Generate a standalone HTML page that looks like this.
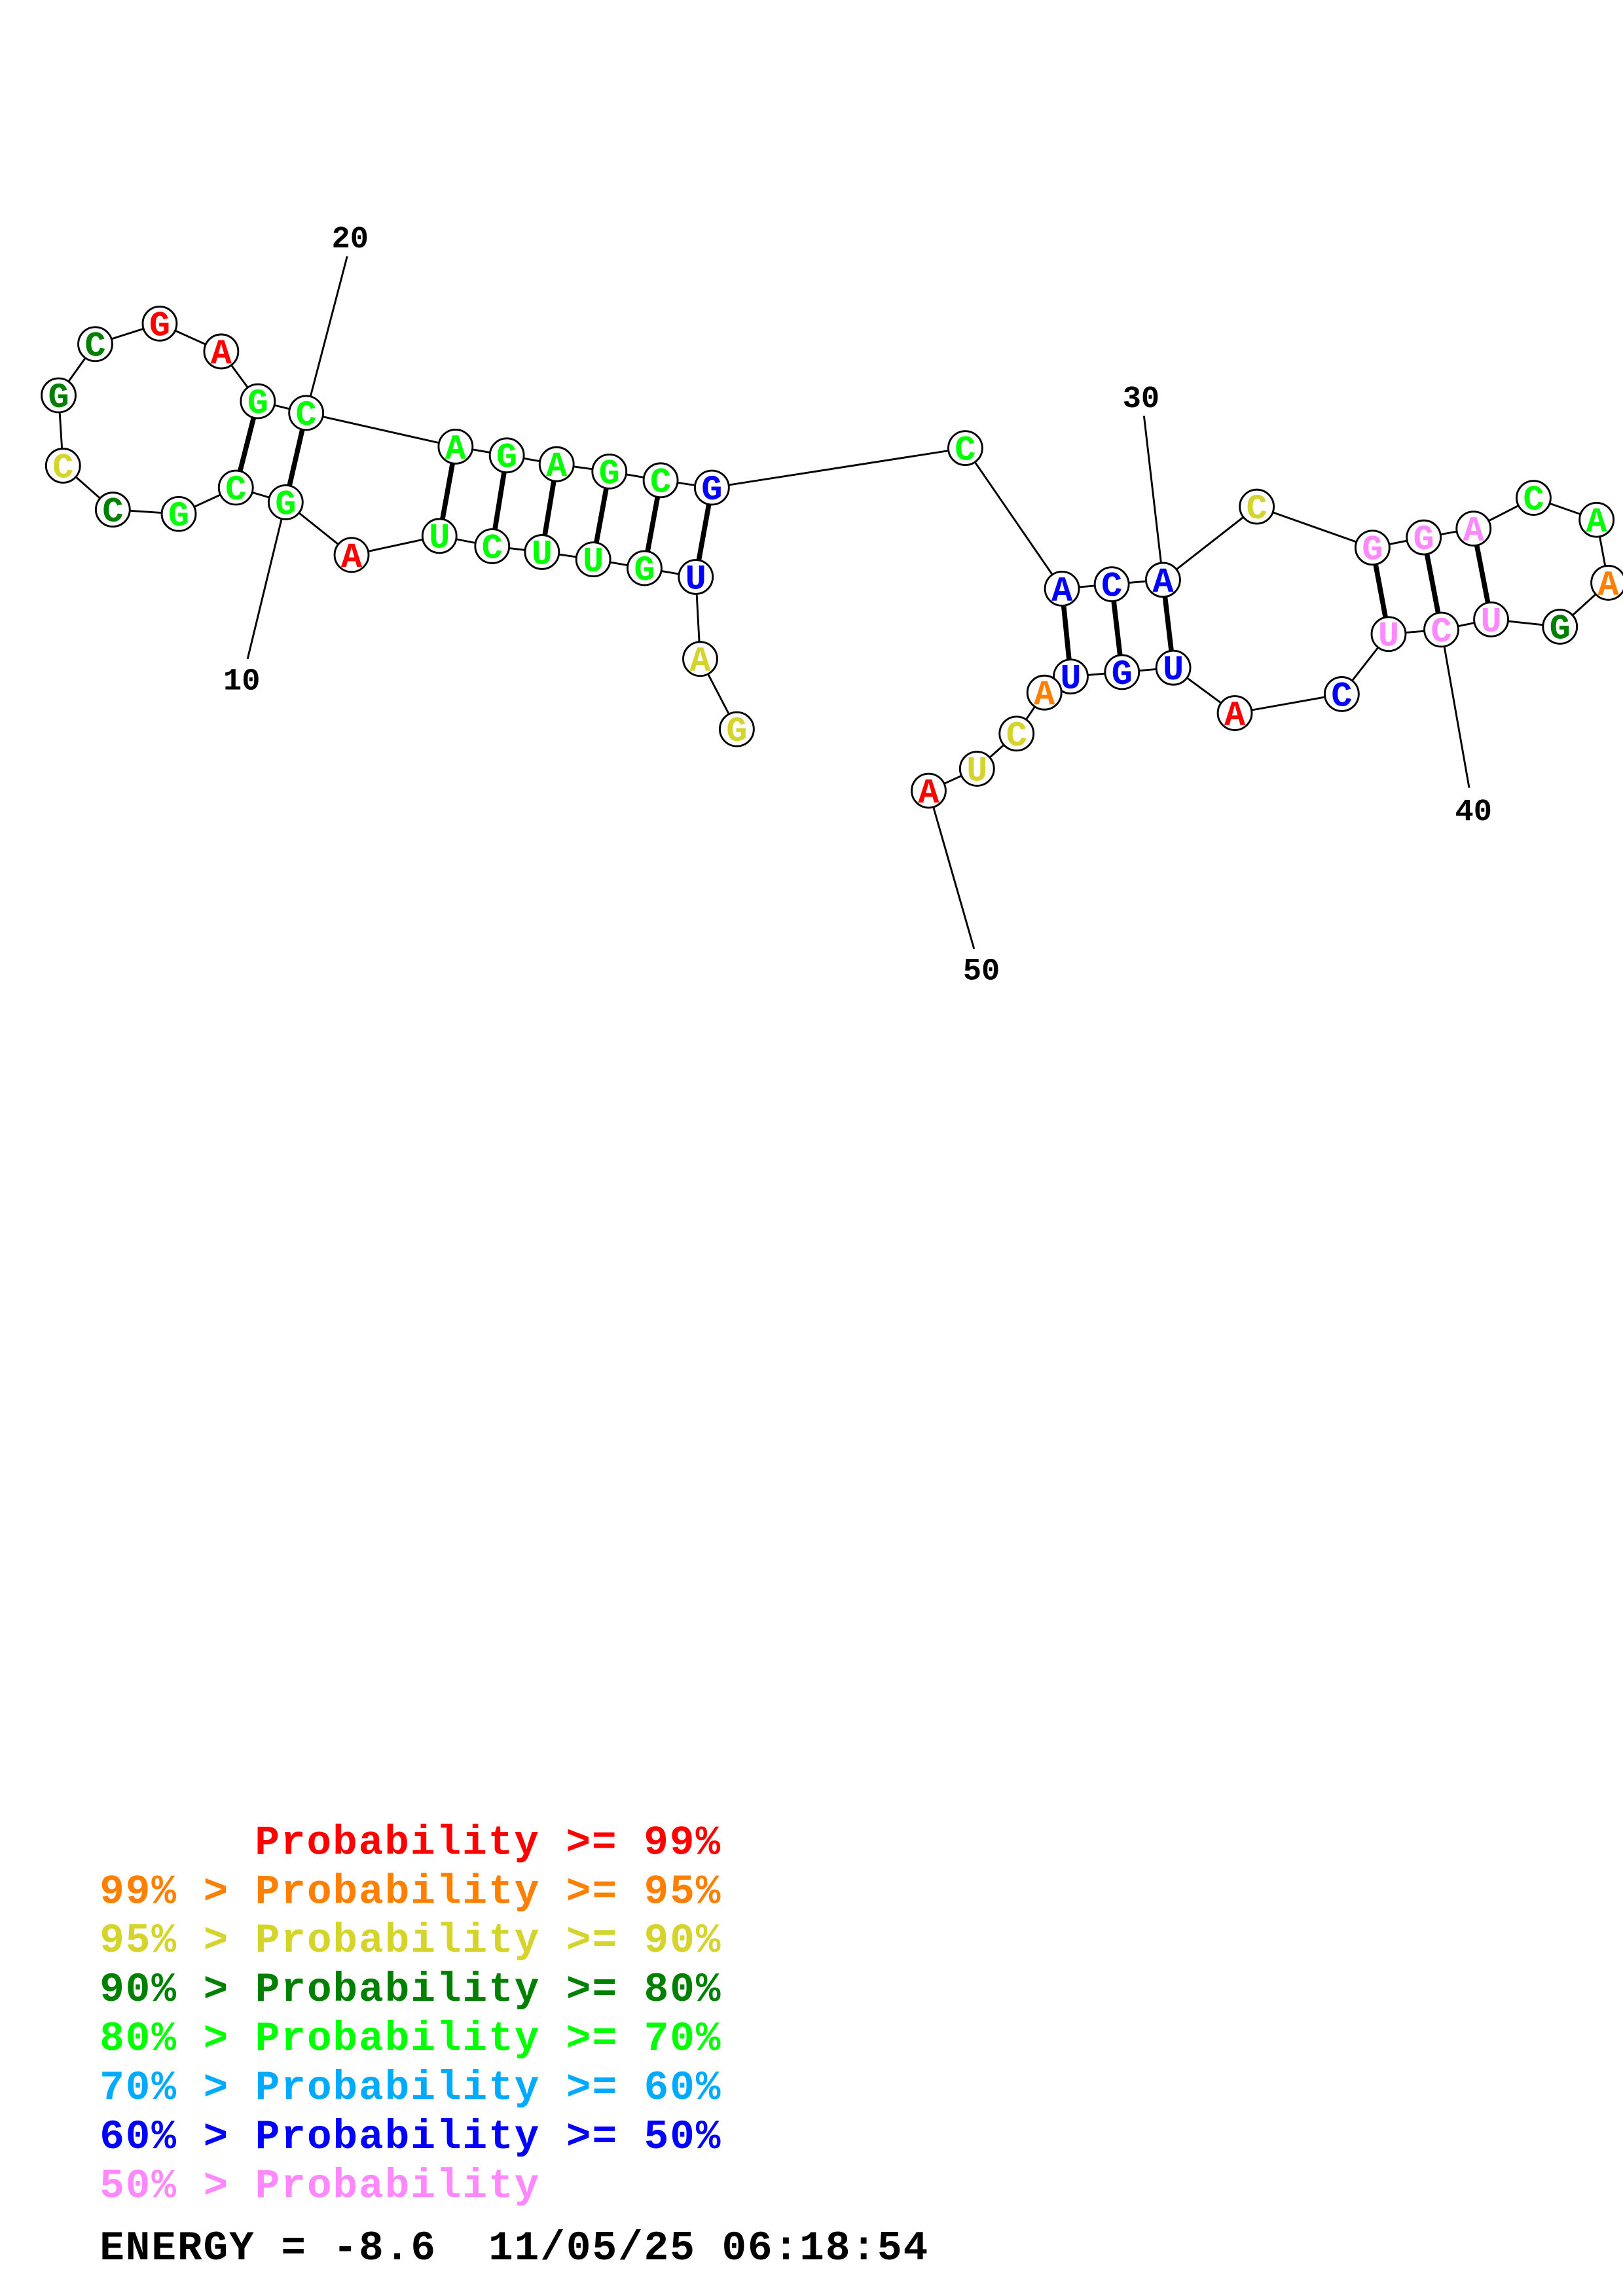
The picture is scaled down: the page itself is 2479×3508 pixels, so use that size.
<!DOCTYPE html>
<html><head><meta charset="utf-8"><style>
html,body{margin:0;padding:0;background:#fff;}
svg{display:block;}
.n{font-family:"Liberation Mono",monospace;font-weight:bold;font-size:24px;text-anchor:middle;}
.l{font-family:"Liberation Mono",monospace;font-weight:bold;font-size:28px;letter-spacing:0.9px;}
.num{font-family:"Liberation Mono",monospace;font-weight:bold;font-size:21px;text-anchor:middle;fill:#000;}
</style></head><body>
<svg width="2479" height="3508" viewBox="0 0 1108 1568" xmlns="http://www.w3.org/2000/svg">
<g stroke="#000" stroke-width="1.3" fill="none">
<polyline points="503,498 478,450 475,394 440,388 405,382 370,377 336,373 300,366 240,379 195,343 161,333 122,351 77,348 43,318 40,270 65,235 109,221 151,240 176,274 209,282 311,305 346,311 380,317 416,322 451,328 486,333 659,306 725,402 759,399 794,396 858,346 937,374 972,367 1006,361 1047,340 1090,355 1098,398 1065,428 1018,423 984,430 948,433 916,474 843,487 801,456 766,459 731,462 713,473 694,501 667,525 634,540"/>
<line x1="209" y1="282" x2="237" y2="175"/>
<line x1="195" y1="343" x2="169" y2="450"/>
<line x1="794" y1="396" x2="781" y2="284"/>
<line x1="984" y1="430" x2="1003" y2="538"/>
<line x1="634" y1="540" x2="665" y2="648"/>
</g>
<g stroke="#000" stroke-width="3.4">
<line x1="475" y1="394" x2="486" y2="333"/>
<line x1="440" y1="388" x2="451" y2="328"/>
<line x1="405" y1="382" x2="416" y2="322"/>
<line x1="370" y1="377" x2="380" y2="317"/>
<line x1="336" y1="373" x2="346" y2="311"/>
<line x1="300" y1="366" x2="311" y2="305"/>
<line x1="195" y1="343" x2="209" y2="282"/>
<line x1="161" y1="333" x2="176" y2="274"/>
<line x1="725" y1="402" x2="731" y2="462"/>
<line x1="759" y1="399" x2="766" y2="459"/>
<line x1="794" y1="396" x2="801" y2="456"/>
<line x1="937" y1="374" x2="948" y2="433"/>
<line x1="972" y1="367" x2="984" y2="430"/>
<line x1="1006" y1="361" x2="1018" y2="423"/>
</g>
<g stroke="#000" stroke-width="1.3" fill="#fff">
<circle cx="503" cy="498" r="11.6"/><circle cx="478" cy="450" r="11.6"/><circle cx="475" cy="394" r="11.6"/><circle cx="440" cy="388" r="11.6"/><circle cx="405" cy="382" r="11.6"/><circle cx="370" cy="377" r="11.6"/><circle cx="336" cy="373" r="11.6"/><circle cx="300" cy="366" r="11.6"/><circle cx="240" cy="379" r="11.6"/><circle cx="195" cy="343" r="11.6"/><circle cx="161" cy="333" r="11.6"/><circle cx="122" cy="351" r="11.6"/><circle cx="77" cy="348" r="11.6"/><circle cx="43" cy="318" r="11.6"/><circle cx="40" cy="270" r="11.6"/><circle cx="65" cy="235" r="11.6"/><circle cx="109" cy="221" r="11.6"/><circle cx="151" cy="240" r="11.6"/><circle cx="176" cy="274" r="11.6"/><circle cx="209" cy="282" r="11.6"/><circle cx="311" cy="305" r="11.6"/><circle cx="346" cy="311" r="11.6"/><circle cx="380" cy="317" r="11.6"/><circle cx="416" cy="322" r="11.6"/><circle cx="451" cy="328" r="11.6"/><circle cx="486" cy="333" r="11.6"/><circle cx="659" cy="306" r="11.6"/><circle cx="725" cy="402" r="11.6"/><circle cx="759" cy="399" r="11.6"/><circle cx="794" cy="396" r="11.6"/><circle cx="858" cy="346" r="11.6"/><circle cx="937" cy="374" r="11.6"/><circle cx="972" cy="367" r="11.6"/><circle cx="1006" cy="361" r="11.6"/><circle cx="1047" cy="340" r="11.6"/><circle cx="1090" cy="355" r="11.6"/><circle cx="1098" cy="398" r="11.6"/><circle cx="1065" cy="428" r="11.6"/><circle cx="1018" cy="423" r="11.6"/><circle cx="984" cy="430" r="11.6"/><circle cx="948" cy="433" r="11.6"/><circle cx="916" cy="474" r="11.6"/><circle cx="843" cy="487" r="11.6"/><circle cx="801" cy="456" r="11.6"/><circle cx="766" cy="459" r="11.6"/><circle cx="731" cy="462" r="11.6"/><circle cx="713" cy="473" r="11.6"/><circle cx="694" cy="501" r="11.6"/><circle cx="667" cy="525" r="11.6"/><circle cx="634" cy="540" r="11.6"/>
</g>
<g class="n">
<text x="503" y="506" fill="#d4d42a">G</text>
<text x="478" y="458" fill="#d4d42a">A</text>
<text x="475" y="402" fill="#0000ff">U</text>
<text x="440" y="396" fill="#00ff00">G</text>
<text x="405" y="390" fill="#00ff00">U</text>
<text x="370" y="385" fill="#00ff00">U</text>
<text x="336" y="381" fill="#00ff00">C</text>
<text x="300" y="374" fill="#00ff00">U</text>
<text x="240" y="387" fill="#ff0000">A</text>
<text x="195" y="351" fill="#00ff00">G</text>
<text x="161" y="341" fill="#00ff00">C</text>
<text x="122" y="359" fill="#00ff00">G</text>
<text x="77" y="356" fill="#008000">C</text>
<text x="43" y="326" fill="#d4d42a">C</text>
<text x="40" y="278" fill="#008000">G</text>
<text x="65" y="243" fill="#008000">C</text>
<text x="109" y="229" fill="#ff0000">G</text>
<text x="151" y="248" fill="#ff0000">A</text>
<text x="176" y="282" fill="#00ff00">G</text>
<text x="209" y="290" fill="#00ff00">C</text>
<text x="311" y="313" fill="#00ff00">A</text>
<text x="346" y="319" fill="#00ff00">G</text>
<text x="380" y="325" fill="#00ff00">A</text>
<text x="416" y="330" fill="#00ff00">G</text>
<text x="451" y="336" fill="#00ff00">C</text>
<text x="486" y="341" fill="#0000ff">G</text>
<text x="659" y="314" fill="#00ff00">C</text>
<text x="725" y="410" fill="#0000ff">A</text>
<text x="759" y="407" fill="#0000ff">C</text>
<text x="794" y="404" fill="#0000ff">A</text>
<text x="858" y="354" fill="#d4d42a">C</text>
<text x="937" y="382" fill="#ff88ff">G</text>
<text x="972" y="375" fill="#ff88ff">G</text>
<text x="1006" y="369" fill="#ff88ff">A</text>
<text x="1047" y="348" fill="#00ff00">C</text>
<text x="1090" y="363" fill="#00ff00">A</text>
<text x="1098" y="406" fill="#ff8000">A</text>
<text x="1065" y="436" fill="#008000">G</text>
<text x="1018" y="431" fill="#ff88ff">U</text>
<text x="984" y="438" fill="#ff88ff">C</text>
<text x="948" y="441" fill="#ff88ff">U</text>
<text x="916" y="482" fill="#0000ff">C</text>
<text x="843" y="495" fill="#ff0000">A</text>
<text x="801" y="464" fill="#0000ff">U</text>
<text x="766" y="467" fill="#0000ff">G</text>
<text x="731" y="470" fill="#0000ff">U</text>
<text x="713" y="481" fill="#ff8000">A</text>
<text x="694" y="509" fill="#d4d42a">C</text>
<text x="667" y="533" fill="#d4d42a">U</text>
<text x="634" y="548" fill="#ff0000">A</text>
</g>
<g class="num">
<text x="239" y="169">20</text>
<text x="165" y="471">10</text>
<text x="779" y="278">30</text>
<text x="1006" y="560">40</text>
<text x="670" y="669">50</text>
</g>
<g class="l">
<text x="174" y="1266" fill="#ff0000">Probability &gt;= 99%</text>
<text x="68" y="1299.5" fill="#ff8000">99% &gt; Probability &gt;= 95%</text>
<text x="68" y="1333" fill="#d4d42a">95% &gt; Probability &gt;= 90%</text>
<text x="68" y="1366.5" fill="#008000">90% &gt; Probability &gt;= 80%</text>
<text x="68" y="1400" fill="#00ff00">80% &gt; Probability &gt;= 70%</text>
<text x="68" y="1433.5" fill="#00aaff">70% &gt; Probability &gt;= 60%</text>
<text x="68" y="1467" fill="#0000ff">60% &gt; Probability &gt;= 50%</text>
<text x="68" y="1500.5" fill="#ff88ff">50% &gt; Probability</text>
<text x="68" y="1543" fill="#000" xml:space="preserve">ENERGY = -8.6  11/05/25 06:18:54</text>
</g>
</svg>
</body></html>
